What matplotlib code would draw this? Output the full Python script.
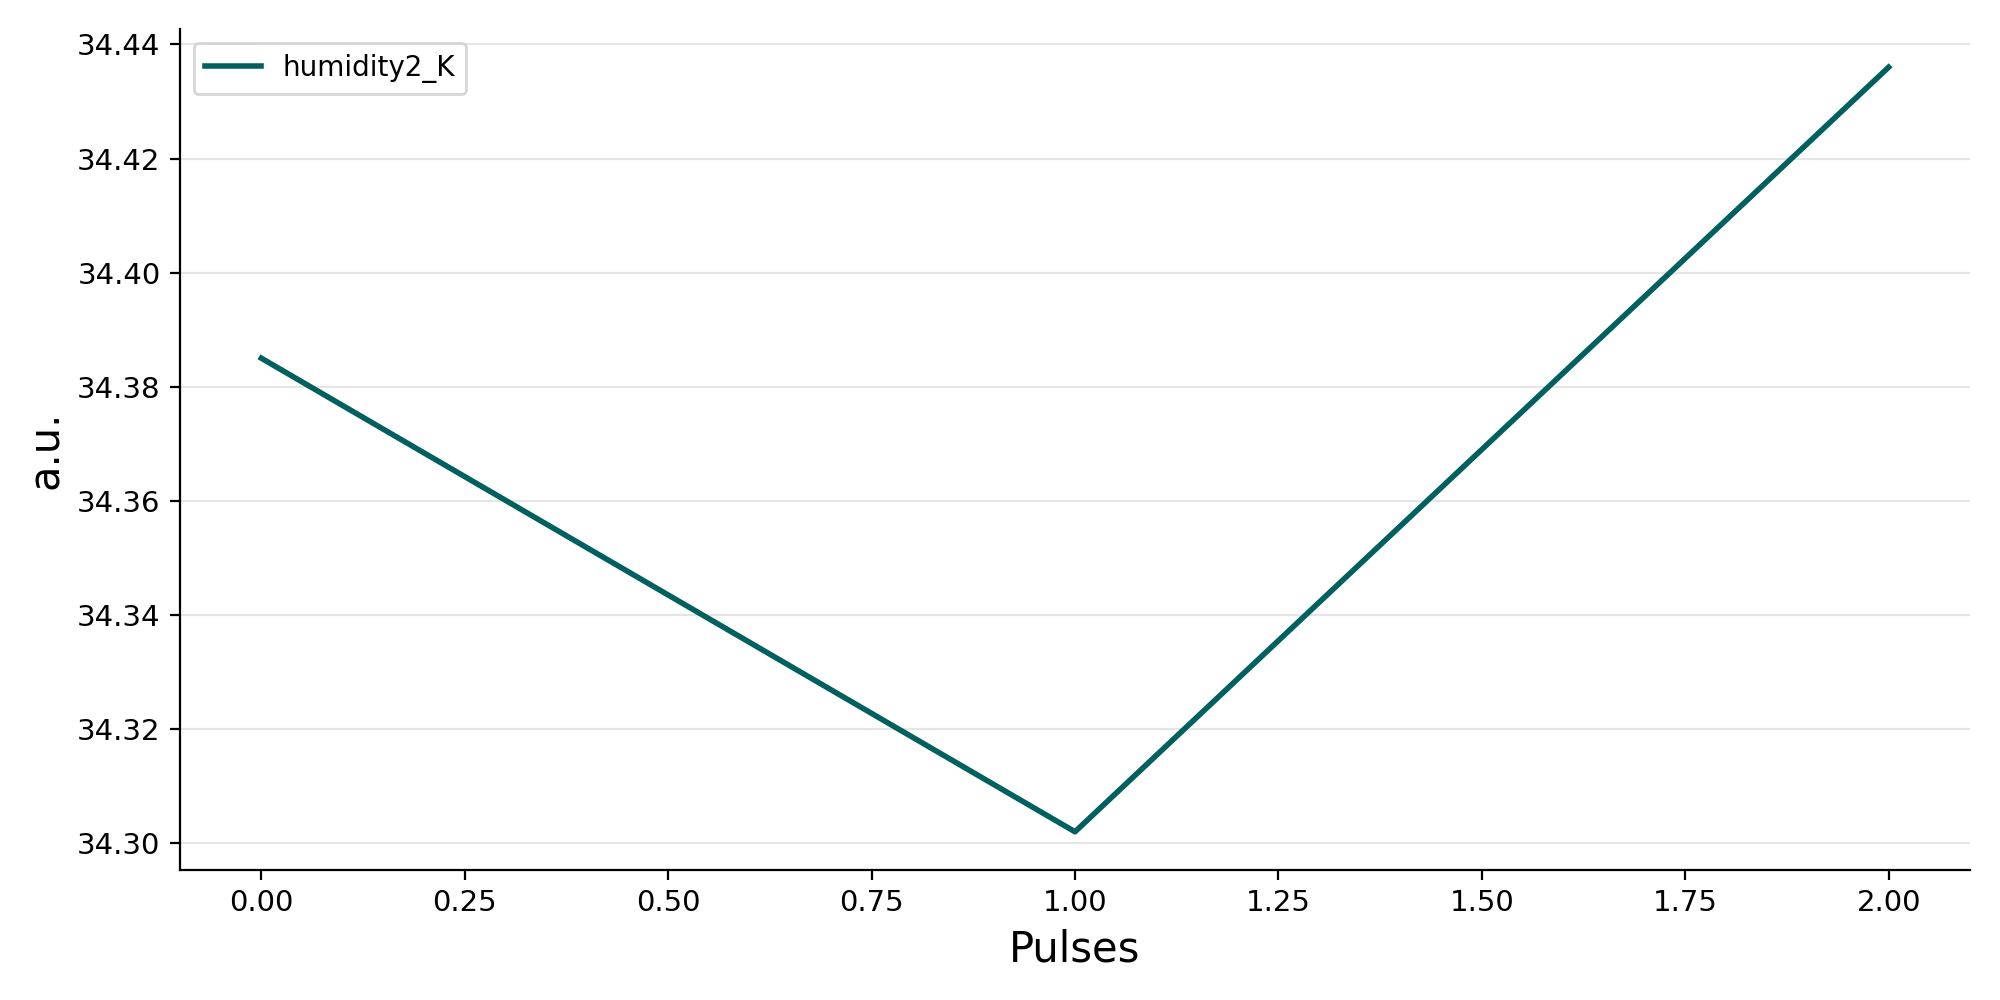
import matplotlib
matplotlib.use("Agg")
import matplotlib.pyplot as plt

# datos
pulsos = [0, 1, 2]
humedad = [34.385, 34.302, 34.436]
serie = "humidity2_K"

fig, ax = plt.subplots(figsize=(10, 5), dpi=200)
fig.subplots_adjust(left=0.09, right=0.985, top=0.971, bottom=0.13)

ax.plot(pulsos, humedad, color="#005F5F", linewidth=2.0, label=serie)

ax.set_xlabel("Pulses", fontsize=15)
ax.set_ylabel("a.u.", fontsize=15)
ax.tick_params(labelsize=10.5)
ax.set_xticks([0, 0.25, 0.5, 0.75, 1.0, 1.25, 1.5, 1.75, 2.0])
ax.set_yticks([34.30, 34.32, 34.34, 34.36, 34.38, 34.40, 34.42, 34.44])
ax.grid(axis="y", color="#e5e5e5", linewidth=0.8)
ax.set_axisbelow(True)
ax.spines["top"].set_visible(False)
ax.spines["right"].set_visible(False)
ax.legend(loc="upper left", fontsize=10)

fig.savefig("out.png")
